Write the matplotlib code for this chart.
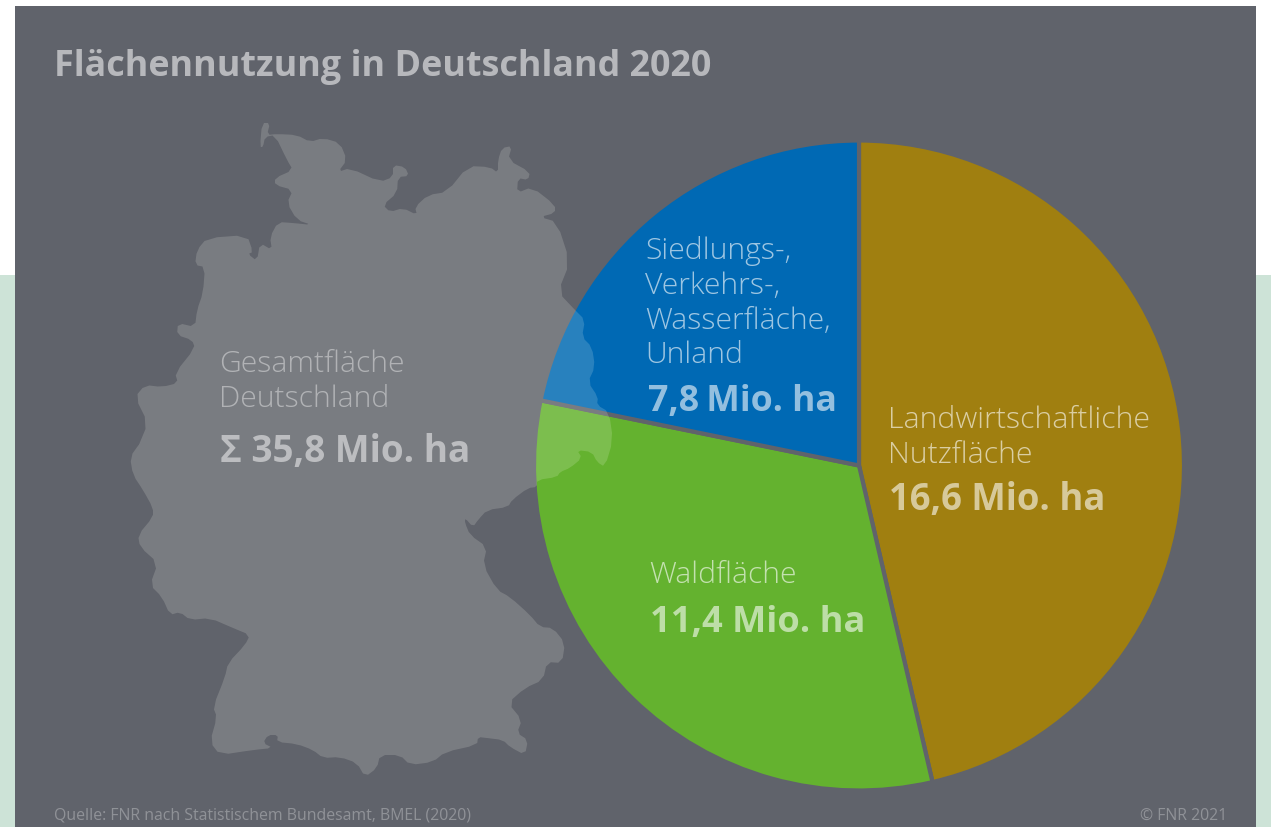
import matplotlib
matplotlib.use("Agg")
import matplotlib.pyplot as plt
from matplotlib.patches import Polygon, Rectangle

W, H = 1271, 827

# Flaechen in Mio. ha
categories = ["Landwirtschaftliche\nNutzfläche", "Waldfläche", "Siedlungs-,\nVerkehrs-,\nWasserfläche,\nUnland"]
values = [16.6, 11.4, 7.8]
total = 35.8
colours = ["#a07f10", "#64b22f", "#0069b4"]

germany_x = [260, 262, 270, 267, 277, 297, 310, 323, 340, 347, 338, 350, 380, 393, 393, 405, 409, 398, 397, 383, 390,
             403, 417, 415, 428, 447, 468, 490, 498, 498, 502, 512, 508, 530, 528, 518, 517, 532, 555, 555, 540, 557,
             570, 558, 575, 585, 582, 592, 595, 588, 598, 597, 609, 613, 605, 597, 592, 577, 582, 570, 560, 557, 537,
             537, 528, 512, 508, 487, 478, 473, 465, 465, 470, 487, 483, 497, 510, 530, 540, 553, 565, 562, 547, 543,
             525, 508, 522, 517, 528, 525, 510, 503, 487, 478, 477, 445, 433, 410, 400, 380, 377, 365, 357, 340, 323,
             313, 297, 277, 278, 268, 263, 273, 253, 220, 210, 217, 213, 225, 228, 245, 250, 233, 210, 190, 180, 170,
             162, 150, 158, 140, 138, 153, 153, 143, 133, 130, 140, 138, 148, 135, 145, 162, 178, 175, 195, 192, 177,
             178, 195, 197, 203, 205, 195, 197, 207, 247, 253, 248, 257, 260, 272, 270, 278, 293, 312, 297, 287, 293,
             275, 275, 293, 287, 275, 265, 263]
germany_y = [147, 123, 123, 135, 134, 135, 142, 138, 143, 160, 172, 168, 182, 177, 165, 167, 176, 177, 193, 205, 212,
             208, 215, 207, 195, 192, 166, 167, 173, 160, 148, 146, 160, 172, 180, 178, 193, 187, 205, 213, 217, 222,
             262, 292, 310, 320, 337, 347, 367, 382, 397, 405, 412, 440, 467, 462, 452, 450, 458, 468, 472, 477, 480,
             487, 488, 500, 507, 510, 520, 527, 518, 523, 535, 547, 565, 590, 597, 615, 627, 628, 643, 663, 662, 680,
             688, 703, 720, 733, 740, 755, 747, 740, 738, 737, 745, 752, 762, 765, 755, 755, 768, 777, 763, 757, 758,
             750, 744, 742, 735, 735, 743, 748, 750, 755, 742, 717, 707, 677, 663, 645, 635, 628, 618, 620, 612, 615,
             597, 585, 563, 547, 535, 517, 508, 490, 475, 457, 443, 447, 423, 397, 385, 387, 383, 373, 348, 340, 335,
             323, 327, 310, 293, 267, 265, 250, 238, 235, 252, 254, 261, 243, 250, 237, 222, 223, 225, 220, 203, 190,
             185, 178, 170, 160, 135, 137, 147]


def smooth(points):
    # Ecken einmal abschneiden, damit der Umriss nicht so eckig wirkt
    out = []
    for i in range(len(points)):
        x0, y0 = points[i]
        x1, y1 = points[(i + 1) % len(points)]
        out.append((0.75 * x0 + 0.25 * x1, 0.75 * y0 + 0.25 * y1))
        out.append((0.25 * x0 + 0.75 * x1, 0.25 * y0 + 0.75 * y1))
    return out


fig = plt.figure(figsize=(W / 100, H / 100), dpi=100, facecolor="white")
ax = fig.add_axes([0, 0, 1, 1])

plt.rcParams["font.family"] = ["Open Sans", "DejaVu Sans"]

ax.add_patch(Rectangle((0, 0), W, H - 275, color="#cde3d7", lw=0))
ax.add_patch(Rectangle((15, 0), 1241, H - 6, color="#60636b", lw=0))

ax.pie(values, colors=colours, startangle=90, counterclock=False, center=(859, H - 465.5), radius=325,
       explode=[0.005, 0, 0], wedgeprops=dict(edgecolor="#60636b", linewidth=3))

outline = smooth([(x, H - y) for x, y in zip(germany_x, germany_y)])
ax.add_patch(Polygon(outline, closed=True, facecolor="#fffff4", alpha=0.16, lw=0, zorder=5))

ax.set_xlim(0, W)
ax.set_ylim(0, H)
ax.set_aspect("auto")
ax.axis("off")


def label(x, y, s, size, weight="light", alpha=0.62, ha="left"):
    ax.text(x, H - y, s, fontsize=size, fontweight=weight, color="white", alpha=alpha, ha=ha, va="baseline", zorder=6)


def mio(v, sep=" "):
    return f"{v:.1f}".replace(".", ",") + sep + "Mio. ha"


label(54, 76, "Flächennutzung in Deutschland 2020", 25.8, "bold", 0.55)

label(219, 372, "Gesamtfläche", 21.7, alpha=0.42)
label(219, 407, "Deutschland", 21.7, alpha=0.42)
label(220, 462, "Σ " + mio(total), 26.6, "bold", 0.5)

for line, y in zip(categories[0].split("\n"), [428, 463]):
    label(888, y, line, 21.8)
label(889, 510, mio(values[0]), 26.3, "bold", 0.58)

label(649, 583, categories[1], 21.7)
label(650, 632, mio(values[1]), 26.1, "bold", 0.58)

for line, y in zip(categories[2].split("\n"), [259, 294, 329, 363]):
    label(645, y, line, 21.7)
label(648, 411, mio(values[2], sep="\u2009"), 25.7, "bold", 0.58)

label(54, 820, "Quelle: FNR nach Statistischem Bundesamt, BMEL (2020)", 11.4, weight="normal", alpha=0.3)
label(1227, 820, "© FNR 2021", 11.4, weight="normal", alpha=0.3, ha="right")

fig.savefig("out.png", dpi=100)
